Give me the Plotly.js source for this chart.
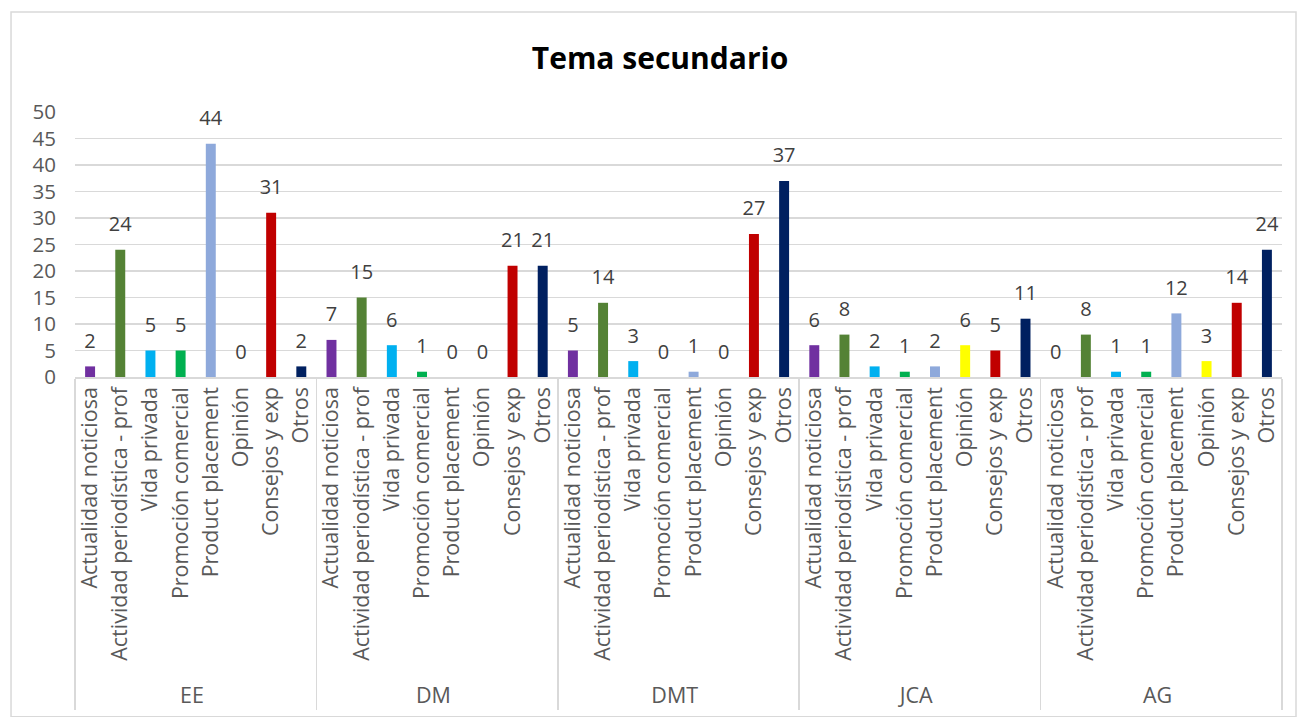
<!DOCTYPE html>
<html>
<head>
<meta charset="utf-8">
<script src="https://cdn.plot.ly/plotly-3.0.1.min.js"></script>
<style>html,body{margin:0;padding:0;background:#fff;}#chart{width:1298px;height:717px;}</style>
</head>
<body>
<div id="chart"></div>
<script>
const groups = ["EE", "DM", "DMT", "JCA", "AG"];
const categories = ["Actualidad noticiosa", "Actividad periodística - prof", "Vida privada", "Promoción comercial", "Product placement", "Opinión", "Consejos y exp", "Otros"];
const categoryColors = ["#7030A0", "#548235", "#00B0F0", "#00B050", "#8EA9DB", "#FFFF00", "#C00000", "#002060"];
const valuesEE  = [2, 24, 5, 5, 44, 0, 31, 2];
const valuesDM  = [7, 15, 6, 1, 0, 0, 21, 21];
const valuesDMT = [5, 14, 3, 0, 1, 0, 27, 37];
const valuesJCA = [6, 8, 2, 1, 2, 6, 5, 11];
const valuesAG  = [0, 8, 1, 1, 12, 3, 14, 24];
const yTicks = [0, 5, 10, 15, 20, 25, 30, 35, 40, 45, 50];

const allValues = [valuesEE, valuesDM, valuesDMT, valuesJCA, valuesAG];
const xOuter = [], xInner = [], yv = [], colors = [], texts = [];
groups.forEach((g, gi) => {
  categories.forEach((c, ci) => {
    xOuter.push(g); xInner.push(c);
    yv.push(allValues[gi][ci]);
    colors.push(categoryColors[ci]);
    texts.push(String(allValues[gi][ci]));
  });
});

const font = "'Open Sans', sans-serif";
const bars = {
  type: "bar", x: [xOuter, xInner], y: yv,
  marker: {color: colors}, hoverinfo: "y", showlegend: false
};
const labels = {
  type: "scatter", mode: "markers+text", x: [xOuter, xInner], y: yv,
  text: texts, textposition: "top center",
  marker: {size: 20, opacity: 0}, cliponaxis: false,
  textfont: {family: font, size: 20, color: "#404040"},
  hoverinfo: "skip", showlegend: false
};

const layout = {
  width: 1298, height: 717,
  margin: {l: 75, r: 16, t: 112, b: 340},
  paper_bgcolor: "#fff", plot_bgcolor: "#fff",
  title: {text: "<b>Tema secundario</b>", x: 0.5085, xanchor: "center", y: 0.919, yanchor: "middle",
          font: {family: font, size: 30, color: "#000"}},
  bargap: 0.67,
  xaxis: {
    type: "multicategory", tickangle: -90, range: [-0.5, 39.5], autorange: false,
    tickfont: {family: font, size: 21.5, color: "#595959"},
    showline: true, linecolor: "#D9D9D9", linewidth: 1.5,
    dividercolor: "#D9D9D9", dividerwidth: 1.5,
    ticks: "", showgrid: false, zeroline: false, fixedrange: true
  },
  yaxis: {
    range: [0, 50], tickvals: yTicks, ticktext: yTicks.map(String),
    tickfont: {family: font, size: 20.5, color: "#595959"},
    ticklabelstandoff: 18,
    showgrid: true, gridcolor: "#D9D9D9", gridwidth: 1.5,
    zeroline: false, showline: false, ticks: "", fixedrange: true
  },
  shapes: [{
    type: "rect", xref: "paper", yref: "paper",
    x0: -0.053, x1: 1.0116, y0: -1.282, y1: 1.377,
    line: {color: "#D9D9D9", width: 1.5}, fillcolor: "rgba(0,0,0,0)", layer: "below"
  }]
};

Plotly.newPlot("chart", [bars, labels], layout, {displayModeBar: false, staticPlot: true});
</script>
</body>
</html>
